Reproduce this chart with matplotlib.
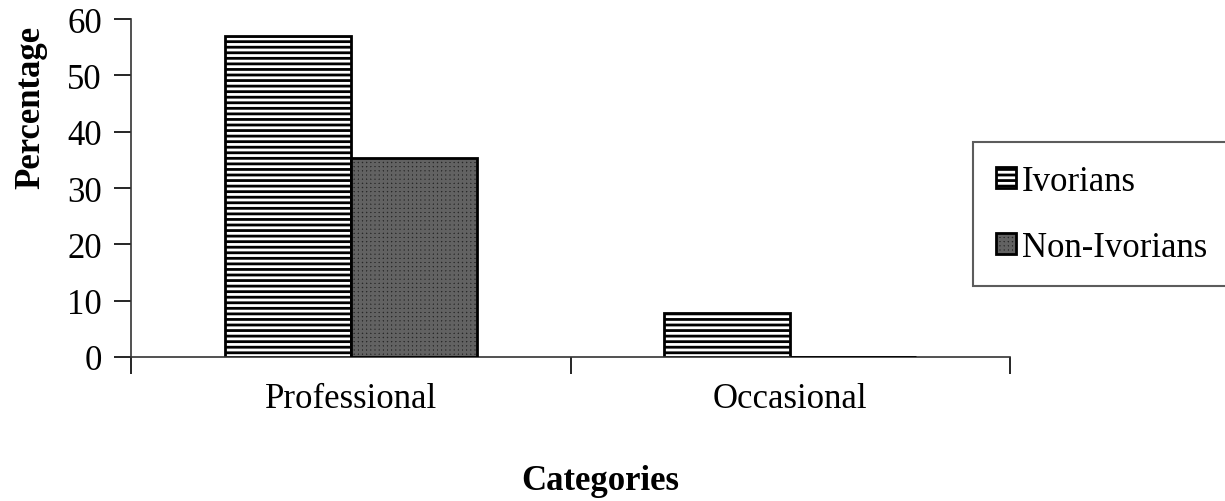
import matplotlib
matplotlib.use("Agg")
import matplotlib.pyplot as plt
import numpy as np
from matplotlib.patches import Patch, Rectangle
from matplotlib.legend_handler import HandlerBase

categories = ["Professional", "Occasional"]
series_names = ["Ivorians", "Non-Ivorians"]
ivorians = [57.0, 7.8]
non_ivorians = [35.3, 0.0]
y_ticks = [0, 10, 20, 30, 40, 50, 60]

plt.rcParams["font.family"] = ["Liberation Serif", "DejaVu Serif"]
plt.rcParams["hatch.linewidth"] = 2.0

DARK_FACE = "#282828"
DARK_HATCH = "#626262"

fig = plt.figure(figsize=(12.25, 5.02), dpi=100)
ax = fig.add_axes([131 / 1225, 1 - 358 / 502, (1010 - 131) / 1225, (358 - 20) / 502])

x = np.arange(len(categories)) + 0.5
w = 0.287

# Ivorians: horizontal stripes
ax.bar(x - w / 2, ivorians, w, facecolor="white", edgecolor="black",
       linewidth=2.0, hatch="---", zorder=2)

# Non-Ivorians: dark stipple fill, then a black outline on top
ax.bar(x + w / 2, non_ivorians, w, facecolor=DARK_FACE, edgecolor=DARK_HATCH,
       linewidth=0, hatch="++++", zorder=2)
ax.bar(x + w / 2, non_ivorians, w, fill=False, edgecolor="black",
       linewidth=2.0, zorder=3)

ax.set_xlim(0, len(categories))
ax.set_ylim(0, 60)
ax.set_yticks(y_ticks)
ax.set_xticks(np.arange(len(categories) + 1))
ax.set_xticklabels([])
ax.set_xticks(x, minor=True)
ax.set_xticklabels(categories, minor=True)
ax.tick_params(axis="x", which="minor", length=0, pad=18, labelsize=25)
ax.tick_params(axis="x", which="major", length=12, width=1.2, direction="out")
ax.tick_params(axis="y", length=12, width=1.2, direction="out", labelsize=25, pad=9)

for s in ["top", "right"]:
    ax.spines[s].set_visible(False)
for s in ["left", "bottom"]:
    ax.spines[s].set_linewidth(1.2)
    ax.spines[s].set_color("#333333")

ax.set_ylabel("Percentage", fontsize=25, fontweight="bold")
ax.yaxis.set_label_coords((47 - 131) / 879, (358 - 107) / 338)

fig.text(600 / 1225, 1 - 482 / 502, "Categories", fontsize=25,
         fontweight="bold", ha="center", va="center")


class SmallSquare(HandlerBase):
    def __init__(self, face, hatch_color, hatch):
        super().__init__()
        self.face = face
        self.hatch_color = hatch_color
        self.hatch = hatch

    def create_artists(self, legend, orig_handle, xdescent, ydescent,
                       width, height, fontsize, trans):
        s = 15
        x0 = 0
        y0 = (height - s) / 2 - ydescent
        inner = Rectangle((x0, y0), s, s, facecolor=self.face,
                          edgecolor=self.hatch_color, hatch=self.hatch,
                          linewidth=0, transform=trans)
        outer = Rectangle((x0, y0), s, s, fill=False, edgecolor="black",
                          linewidth=2.0, transform=trans)
        return [inner, outer]


h1 = Patch(label=series_names[0])
h2 = Patch(label=series_names[1])
leg = fig.legend(
    [h1, h2], series_names,
    handler_map={h1: SmallSquare("white", "black", "---"),
                 h2: SmallSquare(DARK_FACE, DARK_HATCH, "++++")},
    loc="upper left", bbox_to_anchor=(973 / 1225, 1 - 143 / 502),
    borderaxespad=0,
    frameon=True, fancybox=False, fontsize=25, handlelength=0.45,
    handletextpad=0.3, labelspacing=0.95, borderpad=0.65,
    edgecolor="#333333",
)
leg.get_frame().set_linewidth(1.5)

fig.savefig("out.png", dpi=100)
